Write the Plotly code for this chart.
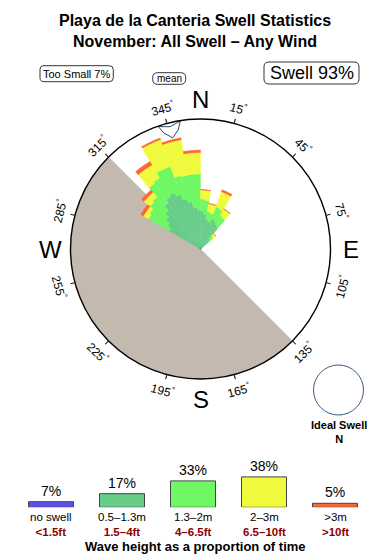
import math
import plotly.graph_objects as go

# ---------------- data ----------------
bin_centers = [302.5, 307.5, 312.5, 317.5, 322.5, 327.5, 332.5, 337.5, 342.5, 347.5, 352.5, 357.5,
               2.5, 7.5, 12.5, 17.5, 22.5, 27.5, 32.5, 37.5, 42.5, 47.5]
bin_width = 5
no_swell = [0.8, 0.8, 0.8, 0.8, 0.8, 0.8, 1.0, 1.0, 1.2, 1.2, 1.5, 1.5, 1.5, 1.2, 1.0, 1.0, 1.0, 1.0, 0.8, 0.8, 0.5, 0.5]
h_05_13 = [35.2, 39.2, 44.2, 49.2, 55.2, 59.2, 61, 57, 50.8, 46.8, 40.5, 37.5, 36.5, 33.8, 29, 27, 31, 30, 28.2, 26.2, 12.5, 10.5]
h_13_2 = [24, 22, 21, 18, 24, 22, 26, 30, 24, 27, 33, 36, 12, 14, 8, 9, 13, 13, 10, 11, 4, 5]
h_2_3 = [6, 4, 8, 6, 17, 15, 28.5, 28.5, 35, 36, 21.5, 21.5, 9, 10, 8, 9, 16, 17, 7, 8, 3, 4]
h_3p = [3, 3, 3, 3, 4, 4, 1.5, 1.5, 2, 2, 2.5, 2.5, 0.5, 0.5, 0.5, 0.5, 2, 2, 0.5, 0.5, 0.3, 0.3]
rose_max = 130

land_from, land_to = 135, 315
mean_dir = 346

deg_ticks = [15, 45, 75, 105, 135, 165, 195, 225, 255, 285, 315, 345]
compass = [("N", 0), ("E", 90), ("S", 180), ("W", 270)]

legend_pct = [7, 17, 33, 38, 5]
legend_m = ["no swell", "0.5\u20131.3m", "1.3\u20132m", "2\u20133m", ">3m"]
legend_ft = ["<1.5ft", "1.5\u20134ft", "4\u20136.5ft", "6.5\u201310ft", ">10ft"]

too_small_pct = 7
swell_pct = 93

# ---------------- style ----------------
FONT = "Liberation Sans, Arial, Helvetica, sans-serif"
C_BLUE = "#5a50ee"
C_TEAL = "#66cc88"
C_GREEN = "#6ef864"
C_YELLOW = "#f0fa3c"
C_RED = "#ff6633"
C_LAND = "#c4b9ae"
layer_colors = [C_BLUE, C_TEAL, C_GREEN, C_YELLOW, C_RED]

W, H = 390, 560
cx, cy, R = 200.5, 249.0, 130.0


def paper(x, y):
    return x / W, 1 - y / H


def polar_px(theta, r):
    t = math.radians(theta)
    return cx + r * math.sin(t), cy - r * math.cos(t)


def esc(s):
    return s.replace("<", "&lt;").replace(">", "&gt;")


def rounded_box(xa, ya, xb, yb, rad):
    def P(x, y):
        px_, py_ = paper(x, y)
        return f"{px_:.5f},{py_:.5f}"
    path = (f"M {P(xa + rad, ya)} L {P(xb - rad, ya)} Q {P(xb, ya)} {P(xb, ya + rad)} "
            f"L {P(xb, yb - rad)} Q {P(xb, yb)} {P(xb - rad, yb)} "
            f"L {P(xa + rad, yb)} Q {P(xa, yb)} {P(xa, yb - rad)} "
            f"L {P(xa, ya + rad)} Q {P(xa, ya)} {P(xa + rad, ya)} Z")
    return dict(type="path", xref="paper", yref="paper", path=path,
                line=dict(color="#333333", width=1), fillcolor="white", layer="below")


fig = go.Figure()

# land sector
fig.add_trace(go.Barpolar(
    r=[rose_max], theta=[(land_from + land_to) / 2], width=[land_to - land_from],
    marker=dict(color=C_LAND, line=dict(color="rgba(150,170,200,0.7)", width=0.6)),
    hoverinfo="skip", showlegend=False, subplot="polar"))

layers = [no_swell, h_05_13, h_13_2, h_2_3, h_3p]
for vals, col in zip(layers, layer_colors):
    fig.add_trace(go.Barpolar(
        r=vals, theta=bin_centers, width=[bin_width] * len(bin_centers),
        marker=dict(color=col, line=dict(color=col, width=0.4)),
        hoverinfo="skip", showlegend=False, subplot="polar"))

# mean direction arrow
arrow_t = [mean_dir - 5, mean_dir, mean_dir + 5, mean_dir + 3.5, mean_dir, mean_dir - 3.5, mean_dir - 5]
arrow_r = [129.5, 126, 129.5, 121.5, 114.5, 121.5, 129.5]
fig.add_trace(go.Scatterpolar(
    r=arrow_r, theta=arrow_t, mode="lines", fill="toself", fillcolor="white",
    line=dict(color="#2b4a72", width=1), hoverinfo="skip", showlegend=False, subplot="polar"))

# ideal swell dial (placeholder trace so subplot renders)
fig.add_trace(go.Scatterpolar(r=[0], theta=[0], mode="markers", marker=dict(opacity=0),
                              hoverinfo="skip", showlegend=False, subplot="polar2"))

# legend bars
fig.add_trace(go.Bar(
    x=list(range(len(legend_pct))), y=legend_pct, width=0.634,
    marker=dict(color=layer_colors, line=dict(color="#444444", width=1)),
    text=[f"{p}%" for p in legend_pct], textposition="outside",
    textfont=dict(family=FONT, size=14, color="black"), cliponaxis=False,
    hoverinfo="skip", showlegend=False, xaxis="x", yaxis="y"))

x0, y_top = paper(cx - R, cy - R)
x1, y_bot = paper(cx + R, cy + R)
ix0, iy_top = paper(313.5, 365)
ix1, iy_bot = paper(363.5, 415)

shapes = [rounded_box(40, 65.7, 113.3, 81.7, 4),
          rounded_box(152.7, 72.7, 185.7, 84.3, 5),
          rounded_box(264, 62, 359, 84, 5)]

annotations = []
# title
annotations.append(dict(text="<b>Playa de la Canteria Swell Statistics</b>", x=0.5, y=paper(0, 21)[1],
                        xref="paper", yref="paper", showarrow=False, xanchor="center", yanchor="middle",
                        font=dict(family=FONT, size=16, color="black")))
annotations.append(dict(text="<b>November: All Swell \u2013 Any Wind</b>", x=0.5, y=paper(0, 42)[1],
                        xref="paper", yref="paper", showarrow=False, xanchor="center", yanchor="middle",
                        font=dict(family=FONT, size=16, color="black")))
# boxes
for txt, px_, py_, fs in [(f"Too Small {too_small_pct}%", 76.7, 73.7, 11),
                          ("mean", 169.2, 78.5, 10),
                          (f"Swell {swell_pct}%", 311.5, 73, 18)]:
    ax_, ay_ = paper(px_, py_)
    annotations.append(dict(text=txt, x=ax_, y=ay_, xref="paper", yref="paper", showarrow=False,
                            xanchor="center", yanchor="middle",
                            font=dict(family=FONT, size=fs, color="black")))
# degree labels
for a in deg_ticks:
    if a <= 90:
        rot = a
    elif a < 270:
        rot = a - 180
    else:
        rot = a - 360
    px_, py_ = polar_px(a, 146)
    ax_, ay_ = paper(px_, py_)
    annotations.append(dict(text=f"{a}<sup>\u00b0</sup>", x=ax_, y=ay_, xref="paper", yref="paper",
                            showarrow=False, xanchor="center", yanchor="middle", textangle=rot,
                            font=dict(family=FONT, size=12, color="black")))
# compass letters
for lab, a in compass:
    px_, py_ = polar_px(a, 150)
    ax_, ay_ = paper(px_, py_)
    annotations.append(dict(text=lab, x=ax_, y=ay_, xref="paper", yref="paper", showarrow=False,
                            xanchor="center", yanchor="middle",
                            font=dict(family=FONT, size=24, color="black")))
# ideal swell
annotations.append(dict(text="<b>Ideal Swell</b><br><b>N</b>", x=paper(338.5, 0)[0], y=paper(0, 432)[1],
                        xref="paper", yref="paper", showarrow=False, xanchor="center", yanchor="middle",
                        font=dict(family=FONT, size=11, color="black")))
# legend category labels
for i, (m, ft) in enumerate(zip(legend_m, legend_ft)):
    annotations.append(dict(
        text=f"{esc(m)}<br><span style='color:#8b0000'><b>{esc(ft)}</b></span>",
        x=i, y=paper(0, 524)[1], xref="x", yref="paper", showarrow=False,
        xanchor="center", yanchor="middle",
        font=dict(family=FONT, size=11.5, color="black")))
annotations.append(dict(text="<b>Wave height as a proportion of time</b>", x=0.5, y=paper(0, 546)[1],
                        xref="paper", yref="paper", showarrow=False, xanchor="center", yanchor="middle",
                        font=dict(family=FONT, size=13, color="black")))

fig.update_layout(
    width=W, height=H, margin=dict(l=0, r=0, t=0, b=0),
    paper_bgcolor="white", plot_bgcolor="white",
    font=dict(family=FONT, color="black"),
    polar=dict(
        domain=dict(x=[x0, x1], y=[y_bot, y_top]),
        bgcolor="white", bargap=0, barmode="stack",
        radialaxis=dict(visible=False, range=[0, rose_max]),
        angularaxis=dict(rotation=90, direction="clockwise", showgrid=False,
                         showline=True, linecolor="black", linewidth=1.4,
                         tickmode="array", tickvals=deg_ticks, ticks="outside", ticklen=4,
                         tickwidth=1, tickcolor="black", showticklabels=False),
    ),
    polar2=dict(
        domain=dict(x=[ix0, ix1], y=[iy_bot, iy_top]),
        bgcolor="rgba(0,0,0,0)",
        radialaxis=dict(visible=False),
        angularaxis=dict(showgrid=False, showline=True, linecolor="#3b5b85", linewidth=1,
                         ticks="", showticklabels=False),
    ),
    xaxis=dict(domain=[15.5 / W, 370.5 / W], range=[-0.5, 4.5], visible=False, fixedrange=True),
    yaxis=dict(domain=[paper(0, 507.3)[1], paper(0, 467.3)[1]], range=[0, 50], visible=False,
               fixedrange=True),
    shapes=shapes,
    annotations=annotations,
    showlegend=False,
)

fig.write_html("out.html")
